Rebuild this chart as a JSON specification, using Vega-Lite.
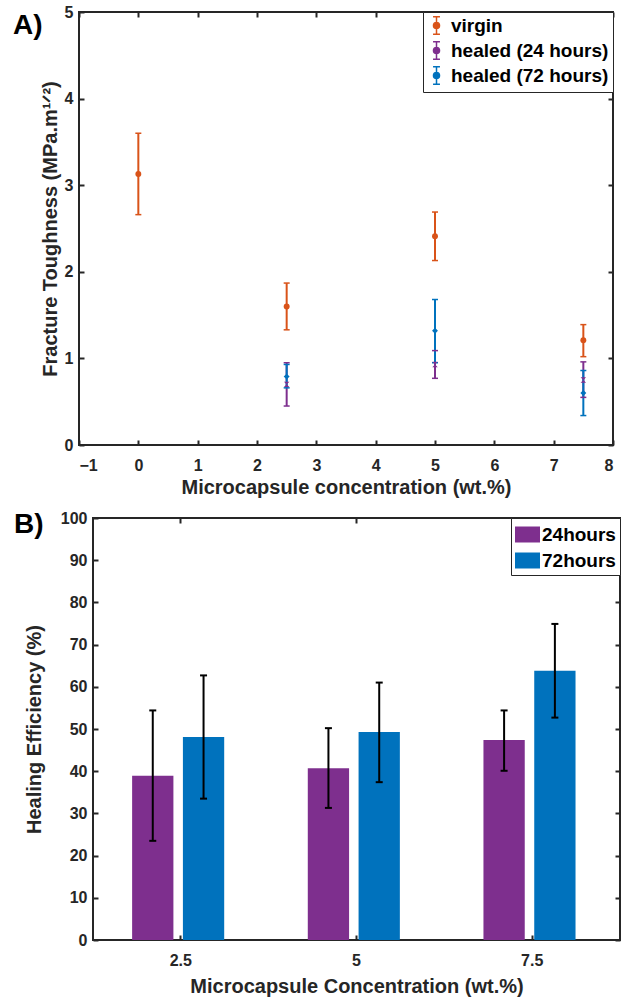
{
  "$schema": "https://vega.github.io/schema/vega-lite/v6.json",
  "padding": {"left": 12, "top": 3, "right": 0, "bottom": 0},
  "background": "white",
  "spacing": 11,
  "resolve": {"scale": {"color": "independent"}, "legend": {"color": "independent"}},
  "config": {
    "font": "Liberation Sans",
    "view": {"stroke": "#262626", "strokeWidth": 2},
    "axis": {
      "labelFontSize": 16, "labelFontWeight": "bold", "labelColor": "#262626",
      "titleFontSize": 20, "titleFontWeight": "bold", "titleColor": "#262626",
      "tickColor": "#262626", "tickWidth": 2, "tickSize": -5,
      "domain": false, "grid": false, "labelPadding": 17
    },
    "axisY": {"labelPadding": 11},
    "legend": {
      "labelFontSize": 19, "labelFontWeight": "bold", "labelColor": "black",
      "strokeColor": "#262626", "fillColor": "white", "labelLimit": 400
    }
  },
  "vconcat": [
    {
      "width": 534,
      "height": 433,
      "title": {"text": "A)", "anchor": "start", "frame": "group", "fontSize": 28, "fontWeight": "bold", "color": "black", "baseline": "top", "dx": -66, "dy": 37, "offset": 1},
      "data": {"values": [
        {"conc": 0, "series": "virgin", "mean": 3.13, "lo": 2.66, "hi": 3.60},
        {"conc": 2.5, "series": "virgin", "mean": 1.60, "lo": 1.33, "hi": 1.87},
        {"conc": 5, "series": "virgin", "mean": 2.41, "lo": 2.13, "hi": 2.69},
        {"conc": 7.5, "series": "virgin", "mean": 1.21, "lo": 1.02, "hi": 1.39},
        {"conc": 2.5, "series": "healed (24 hours)", "mean": 0.70, "lo": 0.45, "hi": 0.95},
        {"conc": 5, "series": "healed (24 hours)", "mean": 0.93, "lo": 0.77, "hi": 1.09},
        {"conc": 7.5, "series": "healed (24 hours)", "mean": 0.75, "lo": 0.55, "hi": 0.96},
        {"conc": 2.5, "series": "healed (72 hours)", "mean": 0.79, "lo": 0.66, "hi": 0.93},
        {"conc": 5, "series": "healed (72 hours)", "mean": 1.32, "lo": 0.95, "hi": 1.68},
        {"conc": 7.5, "series": "healed (72 hours)", "mean": 0.60, "lo": 0.34, "hi": 0.86}
      ]},
      "layer": [
        {
          "mark": {"type": "rule", "strokeWidth": 2},
          "encoding": {
            "x": {"field": "conc", "type": "quantitative", "scale": {"domain": [-1, 8], "nice": false},
                  "axis": {"orient": "bottom", "values": [-1, 0, 1, 2, 3, 4, 5, 6, 7, 8], "title": "Microcapsule concentration (wt.%)", "titlePadding": 4}},
            "y": {"field": "lo", "type": "quantitative", "scale": {"domain": [0, 5], "nice": false},
                  "axis": {"orient": "left", "values": [0, 1, 2, 3, 4, 5], "title": "Fracture Toughness (MPa.m¹ᐟ²)", "titlePadding": 4}},
            "y2": {"field": "hi"},
            "color": {"field": "series", "type": "nominal",
                      "scale": {"domain": ["virgin", "healed (24 hours)", "healed (72 hours)"], "range": ["#D95319", "#7E2F8E", "#0072BD"]},
                      "legend": {"title": null, "orient": "top-right", "offset": 0, "padding": 4, "rowPadding": 0, "labelOffset": 5,
                                 "symbolType": "M0,-1V1M-0.4,-1H0.4M-0.4,1H0.4M-0.35,0A0.35,0.35 0 1,0 0.35,0A0.35,0.35 0 1,0 -0.35,0",
                                 "symbolSize": 300, "symbolStrokeWidth": 1.5}}
          }
        },
        {
          "mark": {"type": "rule", "strokeWidth": 1.5, "xOffset": -3, "x2Offset": 3},
          "encoding": {
            "x": {"field": "conc", "type": "quantitative", "axis": {"orient": "top", "labels": false, "title": null, "values": [-1, 0, 1, 2, 3, 4, 5, 6, 7, 8]}},
            "x2": {"field": "conc"},
            "y": {"field": "hi", "type": "quantitative", "axis": {"orient": "right", "labels": false, "title": null, "values": [0, 1, 2, 3, 4, 5]}},
            "color": {"field": "series", "type": "nominal"}
          }
        },
        {
          "mark": {"type": "rule", "strokeWidth": 1.5, "xOffset": -3, "x2Offset": 3},
          "encoding": {
            "x": {"field": "conc", "type": "quantitative", "axis": null},
            "x2": {"field": "conc"},
            "y": {"field": "lo", "type": "quantitative", "axis": null},
            "color": {"field": "series", "type": "nominal"}
          }
        },
        {
          "transform": [{"filter": "datum.series === 'virgin'"}],
          "mark": {"type": "point", "filled": true, "size": 35, "opacity": 1, "shape": "circle"},
          "encoding": {
            "x": {"field": "conc", "type": "quantitative", "axis": null},
            "y": {"field": "mean", "type": "quantitative", "axis": null},
            "color": {"field": "series", "type": "nominal"}
          }
        },
        {
          "transform": [{"filter": "datum.series === 'healed (24 hours)'"}],
          "mark": {"type": "point", "filled": true, "size": 30, "opacity": 1, "shape": "M-1,-1L1,-1L-1,1L1,1Z"},
          "encoding": {
            "x": {"field": "conc", "type": "quantitative", "axis": null},
            "y": {"field": "mean", "type": "quantitative", "axis": null},
            "color": {"field": "series", "type": "nominal"}
          }
        },
        {
          "transform": [{"filter": "datum.series === 'healed (72 hours)'"}],
          "mark": {"type": "point", "filled": true, "size": 35, "opacity": 1, "shape": "diamond"},
          "encoding": {
            "x": {"field": "conc", "type": "quantitative", "axis": null},
            "y": {"field": "mean", "type": "quantitative", "axis": null},
            "color": {"field": "series", "type": "nominal"}
          }
        }
      ]
    },
    {
      "resolve": {"scale": {"color": "independent"}, "legend": {"color": "independent"}},
      "hconcat": [
        {
          "width": 14,
          "height": 10,
          "view": {"stroke": null},
          "data": {"values": [{}]},
          "mark": {"type": "text"},
          "encoding": {"text": {"value": ""}}
        },
        {
          "width": 527,
          "height": 422,
          "title": {"text": "B)", "anchor": "start", "frame": "group", "fontSize": 28, "fontWeight": "bold", "color": "black", "baseline": "top", "dx": -79, "dy": 24, "offset": -5},
          "data": {"values": [
            {"conc": "2.5", "duration": "24hours", "eff": 38.9, "lo": 23.5, "hi": 54.4},
            {"conc": "2.5", "duration": "72hours", "eff": 48.1, "lo": 33.5, "hi": 62.7},
            {"conc": "5", "duration": "24hours", "eff": 40.7, "lo": 31.3, "hi": 50.2},
            {"conc": "5", "duration": "72hours", "eff": 49.3, "lo": 37.4, "hi": 61.0},
            {"conc": "7.5", "duration": "24hours", "eff": 47.4, "lo": 40.1, "hi": 54.4},
            {"conc": "7.5", "duration": "72hours", "eff": 63.8, "lo": 52.7, "hi": 74.9}
          ]},
          "layer": [
            {
              "mark": {"type": "bar"},
              "encoding": {
                "x": {"field": "conc", "type": "nominal", "sort": null, "scale": {"paddingInner": 0, "paddingOuter": 0},
                      "axis": {"orient": "bottom", "labelAngle": 0, "title": "Microcapsule Concentration (wt.%)", "titlePadding": 8}},
                "xOffset": {"field": "duration", "type": "nominal", "scale": {"paddingInner": 0.187, "paddingOuter": 0.823, "align": 0.468}},
                "y": {"field": "eff", "type": "quantitative", "scale": {"domain": [0, 100], "nice": false},
                      "axis": {"orient": "left", "values": [0, 10, 20, 30, 40, 50, 60, 70, 80, 90, 100], "title": "Healing Efficiency (%)", "titlePadding": 16}},
                "color": {"field": "duration", "type": "nominal",
                          "scale": {"domain": ["24hours", "72hours"], "range": ["#7E2F8E", "#0072BD"]},
                          "legend": {"title": null, "orient": "top-right", "offset": 0, "padding": 4, "rowPadding": 3, "labelOffset": 2,
                                     "symbolType": "M-1,-0.64H1V0.64H-1Z", "symbolSize": 625, "symbolStrokeWidth": 0, "symbolOpacity": 1}}
              }
            },
            {
              "mark": {"type": "rule", "strokeWidth": 2, "color": "black"},
              "encoding": {
                "x": {"field": "conc", "type": "nominal", "sort": null, "axis": {"orient": "top", "labels": false, "title": null}},
                "xOffset": {"field": "duration", "type": "nominal"},
                "y": {"field": "lo", "type": "quantitative", "axis": {"orient": "right", "labels": false, "title": null, "values": [0, 10, 20, 30, 40, 50, 60, 70, 80, 90, 100]}},
                "y2": {"field": "hi"}
              }
            },
            {
              "mark": {"type": "tick", "thickness": 2, "size": 7, "color": "black", "opacity": 1},
              "encoding": {
                "x": {"field": "conc", "type": "nominal", "sort": null, "axis": null},
                "xOffset": {"field": "duration", "type": "nominal"},
                "y": {"field": "hi", "type": "quantitative", "axis": null}
              }
            },
            {
              "mark": {"type": "tick", "thickness": 2, "size": 7, "color": "black", "opacity": 1},
              "encoding": {
                "x": {"field": "conc", "type": "nominal", "sort": null, "axis": null},
                "xOffset": {"field": "duration", "type": "nominal"},
                "y": {"field": "lo", "type": "quantitative", "axis": null}
              }
            }
          ]
        }
      ],
      "spacing": 0,
      "bounds": "flush"
    }
  ]
}
